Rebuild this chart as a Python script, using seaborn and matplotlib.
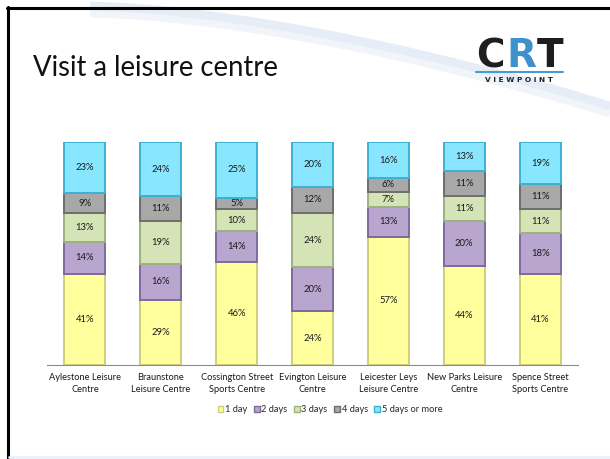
import numpy as np
import pandas as pd
import seaborn as sns
import matplotlib.pyplot as plt
from matplotlib.patches import Patch

centres = ["Aylestone Leisure\nCentre", "Braunstone\nLeisure Centre",
           "Cossington Street\nSports Centre", "Evington Leisure\nCentre",
           "Leicester Leys\nLeisure Centre", "New Parks Leisure\nCentre",
           "Spence Street\nSports Centre"]
series = ["1 day", "2 days", "3 days", "4 days", "5 days or more"]
one_day = [41, 29, 46, 24, 57, 44, 41]
two_days = [14, 16, 14, 20, 13, 20, 18]
three_days = [13, 19, 10, 24, 7, 11, 11]
four_days = [9, 11, 5, 12, 6, 11, 11]
five_plus = [23, 24, 25, 20, 16, 13, 19]

fills = ["#FFFF9E", "#B8A6CF", "#D4E4B6", "#A8A8A8", "#88E6FF"]
edges = ["#CFCF78", "#7E6A9C", "#9DB27E", "#6E6E6E", "#3DB0D4"]

sns.set_style("white")
plt.rcParams['font.family'] = ['Lato', 'DejaVu Sans']

fig = plt.figure(figsize=(6.1, 4.59), dpi=100)

# slide background: border and light swoosh
bg = fig.add_axes([0, 0, 1, 1], zorder=-5)
bg.set_xlim(0, 610)
bg.set_ylim(459, 0)
bg.axis("off")
sx = np.linspace(90, 610, 200)
sy = 8 + 100 * ((sx - 90) / 520) ** 1.6
bg.plot(sx, sy, color="#E6EDF6", lw=9, solid_capstyle="butt")
bg.plot(sx, sy + 6, color="#F1F5FA", lw=5, solid_capstyle="butt")
bg.plot([8, 8], [7, 459], color="black", lw=2.2)
bg.plot([7, 610], [8, 8], color="black", lw=2.2)
bg.plot([9, 610], [457, 457], color="#E8F0F8", lw=2)

fig.text(33 / 610, 1 - 76 / 459, "Visit a leisure centre", fontsize=19.8,
         va="baseline", ha="left", color="#111111")

# logo
fig.text(490 / 610, 1 - 67 / 459, "C", fontsize=28, fontweight="heavy",
         family="DejaVu Sans", color="#1E1E1E", ha="center", va="baseline")
fig.text(521 / 610, 1 - 67 / 459, "R", fontsize=28, fontweight="heavy",
         family="DejaVu Sans", color="#3E92CC", ha="center", va="baseline")
fig.text(550 / 610, 1 - 67 / 459, "T", fontsize=28, fontweight="heavy",
         family="DejaVu Sans", color="#1E1E1E", ha="center", va="baseline")
bg.plot([476, 563], [72, 72], color="#4A9AD0", lw=1.5)
fig.text(519 / 610, 1 - 80 / 459, "V I E W P O I N T", fontsize=5.3,
         fontweight="bold", family="DejaVu Sans", color="#222222",
         ha="center", va="center")

ax = fig.add_axes([47 / 610, 94 / 459, 531 / 610, 223 / 459])

df = pd.DataFrame({"centre": centres, "1 day": one_day, "2 days": two_days,
                   "3 days": three_days, "4 days": four_days,
                   "5 days or more": five_plus})
totals = df[series].sum(axis=1)
bottom = np.zeros(len(df))
for s, fc, ec in zip(series, fills, edges):
    share = (df[s] / totals).to_numpy()
    sns.barplot(x=df["centre"], y=share, bottom=bottom, color=fc,
                edgecolor=ec, linewidth=1.4, width=0.54, saturation=1,
                ax=ax)
    for i, (v, b) in enumerate(zip(df[s], bottom)):
        ax.text(i, b + share[i] / 2, f"{v}%", ha="center", va="center",
                fontsize=6.8, color="#1A1A1A")
    bottom = bottom + share

ax.set_xlim(-0.5, len(centres) - 0.5)
ax.set_ylim(0, 1)
ax.set_xlabel("")
ax.set_ylabel("")
ax.set_yticks([])
for sp in ["top", "right", "left"]:
    ax.spines[sp].set_visible(False)
ax.spines["bottom"].set_color("#8C8C8C")
ax.spines["bottom"].set_linewidth(0.8)
ax.set_xticks(range(len(centres)))
ax.set_xticklabels(centres, fontsize=6.7, color="#1A1A1A", linespacing=1.35)
ax.tick_params(axis="x", length=0, pad=6)
ax.set_xticks(np.arange(-0.5, len(centres), 1), minor=True)
ax.tick_params(axis="x", which="minor", length=4, color="#8C8C8C",
               direction="out", width=0.8)

handles = [Patch(facecolor=fc, edgecolor=ec, label=s)
           for s, fc, ec in zip(series, fills, edges)]
fig.legend(handles=handles, loc="center", bbox_to_anchor=(330 / 610, 1 - 410 / 459),
           ncol=5, frameon=False, fontsize=6.7, handlelength=0.6,
           handleheight=0.6, handletextpad=0.2, columnspacing=0.7)

plt.savefig("out.png", dpi=100)
